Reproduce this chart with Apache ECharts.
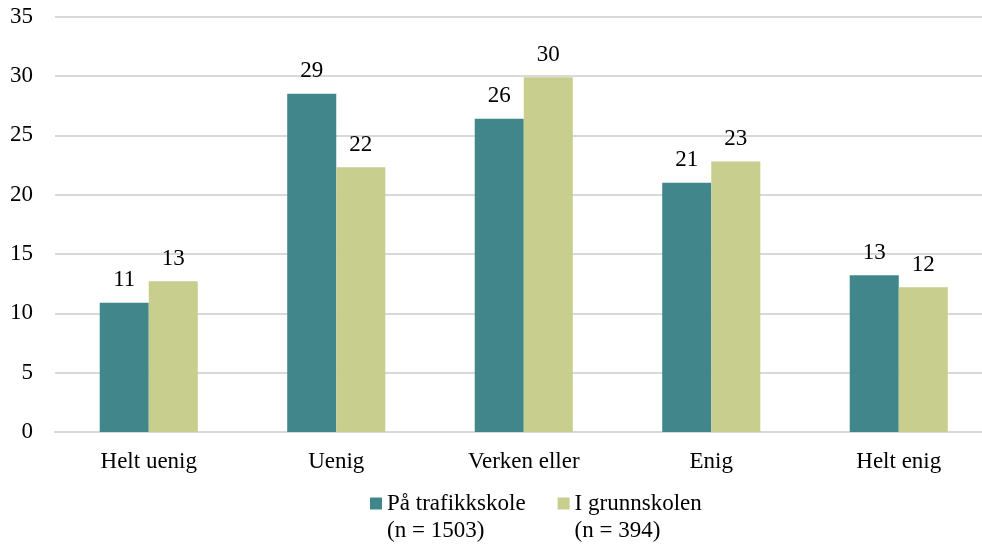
<!DOCTYPE html>
<html>
<head>
<meta charset="utf-8">
<script src="https://cdn.jsdelivr.net/npm/echarts@6/dist/echarts.min.js"></script>
<style>
  html, body { margin: 0; padding: 0; background: #fff; }
  #chart { width: 982px; height: 544px; }
</style>
</head>
<body>
<div id="chart"></div>
<script>
const categories = ['Helt uenig', 'Uenig', 'Verken eller', 'Enig', 'Helt enig'];
const trafikkskole = [10.9, 28.5, 26.4, 21.0, 13.2];
const grunnskolen = [12.7, 22.3, 29.9, 22.8, 12.2];
const seriesNames = ['På trafikkskole\n(n = 1503)', 'I grunnskolen\n(n = 394)'];

const FONT = '"Liberation Serif", "Times New Roman", serif';
const FS = 23;
const LINE = 27;

const chart = echarts.init(document.getElementById('chart'), null, { renderer: 'canvas' });

const labelStyle = {
  show: true,
  position: 'top',
  distance: 11,
  color: '#000',
  fontFamily: FONT,
  fontSize: FS,
  formatter: p => Math.round(p.value)
};

chart.setOption({
  animation: false,
  textStyle: { fontFamily: FONT },
  grid: {
    left: 55, top: 16.6, bottom: 112, width: 937.5,
    containLabel: false, outerBoundsMode: 'none'
  },
  legend: {
    left: 370,
    top: 463,
    padding: 0,
    itemGap: 32,
    itemWidth: 12,
    itemHeight: 12,
    icon: 'rect',
    selectedMode: false,
    // leading blank line keeps the swatch level with the first text line
    formatter: name => '\n' + name,
    textStyle: {
      fontFamily: FONT,
      fontSize: FS,
      color: '#000',
      lineHeight: LINE
    },
    data: seriesNames
  },
  xAxis: {
    type: 'category',
    data: categories,
    axisTick: { show: false },
    axisLine: { lineStyle: { color: '#d9d9d9', width: 2 } },
    axisLabel: { color: '#000', fontFamily: FONT, fontSize: FS, margin: 18 }
  },
  yAxis: {
    type: 'value',
    min: 0,
    max: 35,
    interval: 5,
    axisLine: { show: false },
    axisTick: { show: false },
    splitLine: { lineStyle: { color: '#d9d9d9', width: 2 } },
    axisLabel: { color: '#000', fontFamily: FONT, fontSize: FS, margin: 22 }
  },
  series: [
    {
      name: seriesNames[0],
      type: 'bar',
      data: trafikkskole,
      barGap: '0%',
      barCategoryGap: '47.7%',
      itemStyle: { color: '#40868a' },
      label: labelStyle
    },
    {
      name: seriesNames[1],
      type: 'bar',
      data: grunnskolen,
      itemStyle: { color: '#c7ce8e' },
      label: labelStyle
    }
  ]
});
</script>
</body>
</html>
